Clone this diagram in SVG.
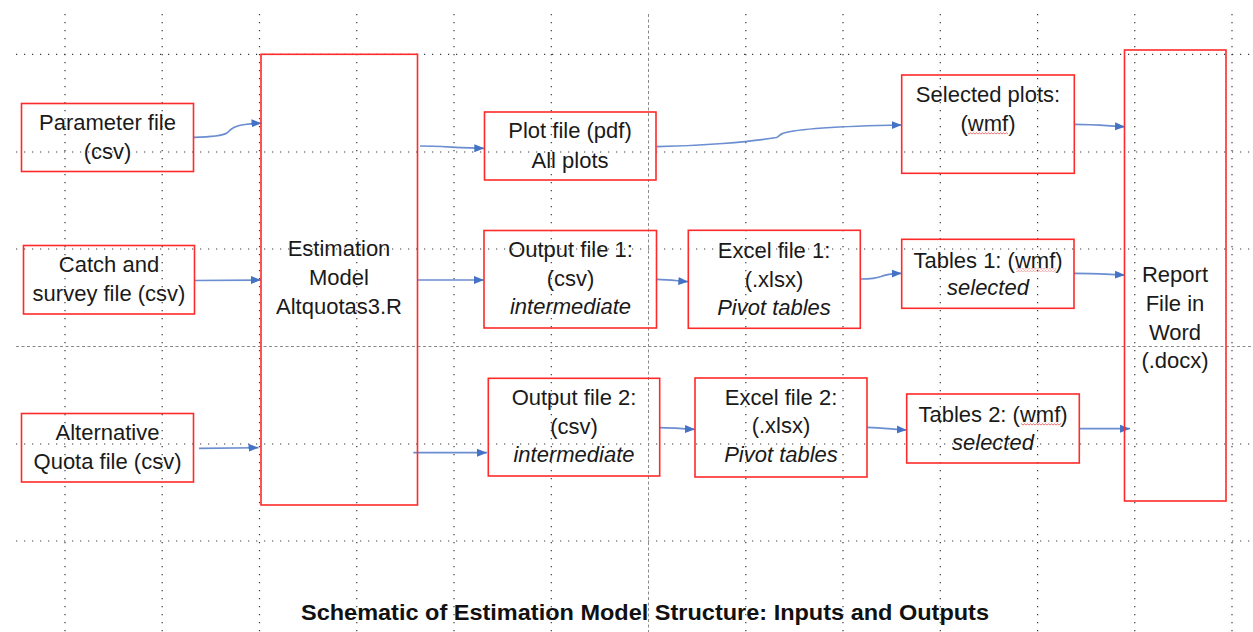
<svg xmlns="http://www.w3.org/2000/svg" width="1253" height="632" viewBox="0 0 1253 632">
  <style>
    .grid { stroke: #3a3a3a; stroke-width: 1.2; stroke-dasharray: 1.2 6.8; fill: none; }
    .major { stroke: #8a8a8a; stroke-width: 1; stroke-dasharray: 3 2.5; fill: none; }
    .box { fill: none; stroke: #ff2a2a; stroke-width: 1.6; }
    .lbl { font-family: "Liberation Sans", Arial, sans-serif; font-size: 22px; fill: #1a1a1a; text-anchor: middle; }
    .it { font-style: italic; }
    .edge { fill: none; stroke: #5b82cc; stroke-width: 1.7; stroke-opacity: 0.9; }
    .title { font-family: "Liberation Sans", Arial, sans-serif; font-size: 22px; font-weight: bold; fill: #111; text-anchor: middle; }
  </style>
  <defs>
    <marker id="arrow" markerUnits="userSpaceOnUse" markerWidth="12" markerHeight="10" refX="10" refY="4.5" orient="auto">
      <path d="M0,0.5 L10,4.5 L0,8.5 Z" fill="#4472c4"/>
    </marker>
    <pattern id="squiggle" width="3" height="3" patternUnits="userSpaceOnUse">
      <path d="M0,2.2 L1.5,0.8 L3,2.2" fill="none" stroke="#e23a3a" stroke-width="0.8"/>
    </pattern>
  </defs>

  <rect width="1253" height="632" fill="#ffffff"/>

  <!-- background drawing grid -->
  <g id="grid">
    <path class="grid" d="M16,54.3H1253 M16,152H1253 M16,249H1253 M16,444H1253 M16,541H1253"/>
    <path class="major" d="M16,346.5H1253"/>
    <path class="grid" d="M65,14V632 M162.2,14V632 M259.5,14V632 M356.8,14V632 M454,14V632 M551.3,14V632 M745.8,14V632 M843,14V632 M940.3,14V632 M1037.6,14V632 M1134.8,14V632 M1232,14V632"/>
    <path class="major" d="M648.5,14V632"/>
  </g>

  <!-- connectors -->
  <g id="connectors">
    <path class="edge" marker-end="url(#arrow)" d="M194,137.4 C210,137 222,136 227,133 C231,129 234,126 245,124.5 C250,123.8 254,123.3 261.5,123.2"/>
    <path class="edge" marker-end="url(#arrow)" d="M195,280.5 L261,280"/>
    <path class="edge" marker-end="url(#arrow)" d="M199,448.3 L258.5,447.7"/>
    <path class="edge" marker-end="url(#arrow)" d="M420,146 C440,146 460,148 484.3,148.3"/>
    <path class="edge" marker-end="url(#arrow)" d="M417.3,280 L484,280"/>
    <path class="edge" marker-end="url(#arrow)" d="M413.3,452.7 L487,452.7"/>
    <path class="edge" marker-end="url(#arrow)" d="M656.7,146.7 C700,146 750,142 776.5,137.5 C779,136.5 780,134 783,133.3 C800,128 850,126 901.7,125"/>
    <path class="edge" marker-end="url(#arrow)" d="M1074.3,124.3 C1095,124.3 1110,126 1125,126.7"/>
    <path class="edge" marker-end="url(#arrow)" d="M657,279.3 C670,279.5 678,281 688.3,281.7"/>
    <path class="edge" marker-end="url(#arrow)" d="M861,279 C870,279 876,278.5 881,276.5 C886,274 893,273.5 901.7,273.3"/>
    <path class="edge" marker-end="url(#arrow)" d="M1074,273.3 C1095,273.3 1110,274.5 1125,275"/>
    <path class="edge" marker-end="url(#arrow)" d="M660,427.7 C675,428 685,429 695,429.3"/>
    <path class="edge" marker-end="url(#arrow)" d="M867.3,427.3 C882,427.5 895,429.5 906.7,430"/>
    <path class="edge" marker-end="url(#arrow)" d="M1079.3,428.7 L1130,428.7"/>
  </g>

  <!-- inputs -->
  <g id="n_param">
    <rect class="box" x="21.5" y="103.5" width="172" height="68"/>
    <text class="lbl" x="107.5" y="129.5">Parameter file</text>
    <text class="lbl" x="107.5" y="158.5">(csv)</text>
  </g>
  <g id="n_catch">
    <rect class="box" x="23.5" y="245.5" width="171" height="68.5"/>
    <text class="lbl" x="109" y="272">Catch and</text>
    <text class="lbl" x="109" y="301">survey file (csv)</text>
  </g>
  <g id="n_alt">
    <rect class="box" x="21.5" y="413.5" width="172" height="68.5"/>
    <text class="lbl" x="107.5" y="440">Alternative</text>
    <text class="lbl" x="107.5" y="469">Quota file (csv)</text>
  </g>

  <!-- model -->
  <g id="n_model">
    <rect class="box" x="261" y="54.3" width="156.5" height="450.7"/>
    <text class="lbl" x="339" y="256">Estimation</text>
    <text class="lbl" x="339" y="285">Model</text>
    <text class="lbl" x="339" y="314">Altquotas3.R</text>
  </g>

  <!-- outputs -->
  <g id="n_plot">
    <rect class="box" x="484.5" y="112" width="171.5" height="68"/>
    <text class="lbl" x="570" y="138">Plot file (pdf)</text>
    <text class="lbl" x="570" y="168">All plots</text>
  </g>
  <g id="n_out1">
    <rect class="box" x="484" y="230.5" width="172.5" height="97.5"/>
    <text class="lbl" x="570.5" y="257">Output file 1:</text>
    <text class="lbl" x="570.5" y="286">(csv)</text>
    <text class="lbl it" x="570.5" y="314">intermediate</text>
  </g>
  <g id="n_excel1">
    <rect class="box" x="688.3" y="230.3" width="172" height="98"/>
    <text class="lbl" x="774" y="258">Excel file 1:</text>
    <text class="lbl" x="774" y="287">(.xlsx)</text>
    <text class="lbl it" x="774" y="315">Pivot tables</text>
  </g>
  <g id="n_tab1">
    <rect class="box" x="901.7" y="239.3" width="172.3" height="69"/>
    <text class="lbl" x="988" y="268">Tables 1: (wmf)</text>
    <rect x="1016" y="268.5" width="40" height="3" fill="url(#squiggle)"/>
    <text class="lbl it" x="988" y="295">selected</text>
  </g>
  <g id="n_out2">
    <rect class="box" x="488.3" y="378.3" width="171.4" height="97.7"/>
    <text class="lbl" x="574" y="405">Output file 2:</text>
    <text class="lbl" x="574" y="434">(csv)</text>
    <text class="lbl it" x="574" y="462">intermediate</text>
  </g>
  <g id="n_excel2">
    <rect class="box" x="695" y="378" width="172" height="99"/>
    <text class="lbl" x="781" y="405">Excel file 2:</text>
    <text class="lbl" x="781" y="433">(.xlsx)</text>
    <text class="lbl it" x="781" y="462">Pivot tables</text>
  </g>
  <g id="n_tab2">
    <rect class="box" x="906.7" y="394" width="172.6" height="69"/>
    <text class="lbl" x="993" y="422">Tables 2: (wmf)</text>
    <rect x="1021" y="422.5" width="40" height="3" fill="url(#squiggle)"/>
    <text class="lbl it" x="993" y="450">selected</text>
  </g>
  <g id="n_selected">
    <rect class="box" x="901.7" y="75" width="172.6" height="98.3"/>
    <text class="lbl" x="988" y="102">Selected plots:</text>
    <text class="lbl" x="988" y="131">(wmf)</text>
    <rect x="968" y="131.5" width="40" height="3" fill="url(#squiggle)"/>
  </g>
  <g id="n_report">
    <rect class="box" x="1124.5" y="50" width="101.5" height="451"/>
    <text class="lbl" x="1175" y="282">Report</text>
    <text class="lbl" x="1175" y="311">File in</text>
    <text class="lbl" x="1175" y="340">Word</text>
    <text class="lbl" x="1175" y="368">(.docx)</text>
  </g>

  <text class="title" x="645" y="620" textLength="688" lengthAdjust="spacingAndGlyphs">Schematic of Estimation Model Structure: Inputs and Outputs</text>
</svg>
